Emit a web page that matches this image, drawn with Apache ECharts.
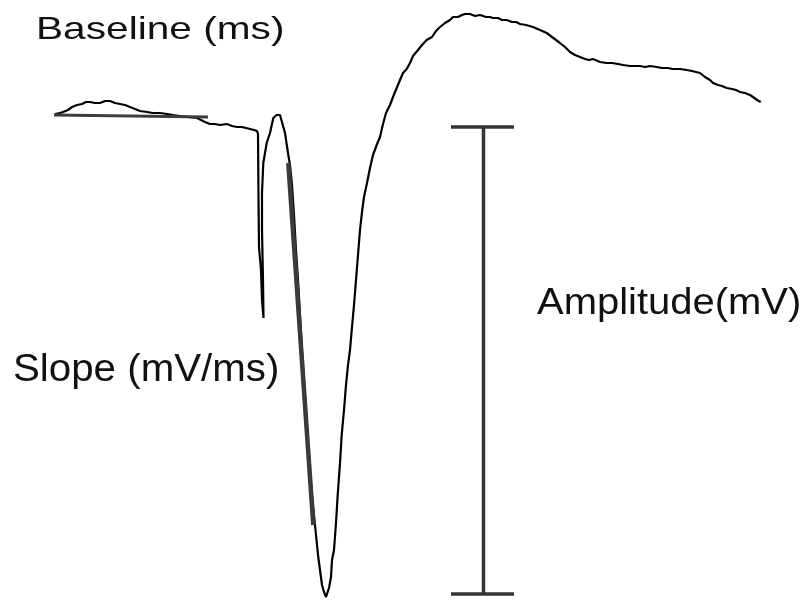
<!DOCTYPE html>
<html>
<head>
<meta charset="utf-8">
<script src="https://cdn.jsdelivr.net/npm/echarts@6/dist/echarts.min.js"></script>
<style>html,body{margin:0;padding:0;background:#fff}#c{width:809px;height:601px}</style>
</head>
<body>
<div id="c"></div>
<script>
// Trace (time, voltage) in chart units (voltage axis inverted)
var traceTime = [55,60,63,68,72,77,82,86,90,95,100,105,110,115,120,125,130,135,140,147,153,160,167,173,180,188,197,201,205,210,215,220,227,232,237,242,246,250,254,257,258,258.5,259,261,262,263.5,263,262,262,263.3,266.7,270,273.3,276.7,280,282,285,288.3,290,292,294,296,298,300,302,304,306,308,310,312,314,316,318,320,322,324,326,328,329,331,332,334,336,337.7,340,341.7,344,346,348,350,352,354,356,358,360,362,364,367,370,373,376.7,380,383,386,390,393,396.7,400,403,406.7,410,413,418,422,426.7,432,436,440,445,450,453,458,462,465,470,475,480,486,490,493,498,502,506.7,512,516,520,526,533,540,546.7,552,556,560,565,570,575,580,585,589,593,600,606.7,612,618,623,630,636,640,645,650,656.7,662,668,673,680,686.7,692,700,705,710,713,718,722,726.7,732,736,740,745,750,753,757,760.7];
var traceVoltage = [114,113,112,110,107,105,104,102,102,103,103,101,101,103,104,105,107,109,111,112,113,113,114,115,116,117,118,120,122,124,124,125,124,126,127,127,128,129,130,131,134,200,247,270,300,318,280,230,193,163,143,133,118,115,115,117,133,155,165,185,215,250,280,315,350,380,410,440,470,495,515,535,555,570,585,592,597,597,588,577,560,550,523,495,463,435,410,385,365,350,327,305,280,255,230,212,197,183,168,155,145,137,124,113,105,97,88,80,73,69,63,56,50,45,40,37,31,27,23,20,17,17,15,14,14,16,15,17,17,18,18,20,20,22,22,24,25,27,30,33,37,40,43,47,52,55,57,59,60,59,62,63,63,64,65,66,66,66,67,66,67,68,68,69,69,70,71,73,77,80,83,85,86,88,89,90,92,93,95,97,100,102,104];
// Baseline fit segment
var baselineTime = [54, 208];
var baselineVoltage = [115, 117];
// Slope fit segment
var slopeTime = [288.3, 313.3];
var slopeVoltage = [163, 525];
// Amplitude bar
var ampTime = 483.5;
var ampTop = 127;
var ampBottom = 594;
var capLeft = 451;
var capRight = 514;
// Annotation labels
var labelTexts = ['Baseline (ms)', 'Slope (mV/ms)', 'Amplitude(mV)'];

function pairs(xs, ys){ return xs.map(function(x,i){ return [x, ys[i]]; }); }

var chart = echarts.init(document.getElementById('c'), null, {renderer:'canvas'});
var lineBase = {type:'line', symbol:'none', silent:true, animation:false};
function f(sz){ return sz + 'px "Liberation Sans", Arial, sans-serif'; }
var option = {
  backgroundColor:'#ffffff',
  animation:false,
  grid:{left:0,right:0,top:0,bottom:0},
  xAxis:{type:'value',min:0,max:809,show:false},
  yAxis:{type:'value',min:0,max:601,inverse:true,show:false},
  series:[
    Object.assign({}, lineBase, {data:pairs(traceTime, traceVoltage), lineStyle:{color:'#000',width:2.2}, z:2}),
    Object.assign({}, lineBase, {data:pairs(baselineTime, baselineVoltage), lineStyle:{color:'#3c3c3c',width:3}, z:3}),
    Object.assign({}, lineBase, {data:pairs(slopeTime, slopeVoltage), lineStyle:{color:'#3a3a3a',width:4.5}, z:3}),
    Object.assign({}, lineBase, {data:[[ampTime,ampTop],[ampTime,ampBottom]], lineStyle:{color:'#333',width:3.5}, z:3}),
    Object.assign({}, lineBase, {data:[[capLeft,ampTop],[capRight,ampTop]], lineStyle:{color:'#333',width:3.5}, z:3}),
    Object.assign({}, lineBase, {data:[[capLeft,ampBottom],[capRight,ampBottom]], lineStyle:{color:'#333',width:3.5}, z:3})
  ],
  graphic:[
    {type:'text', x:36, y:30.4, scaleX:1.27, style:{text:labelTexts[0], font:f(32), fill:'#111', align:'left', verticalAlign:'middle'}},
    {type:'text', x:13, y:371, scaleX:1.06, style:{text:labelTexts[1], font:f(38), fill:'#111', align:'left', verticalAlign:'middle'}},
    {type:'text', x:537, y:304.5, scaleX:1.11, style:{text:labelTexts[2], font:f(36), fill:'#111', align:'left', verticalAlign:'middle'}}
  ]
};
chart.setOption(option);
</script>
</body>
</html>
